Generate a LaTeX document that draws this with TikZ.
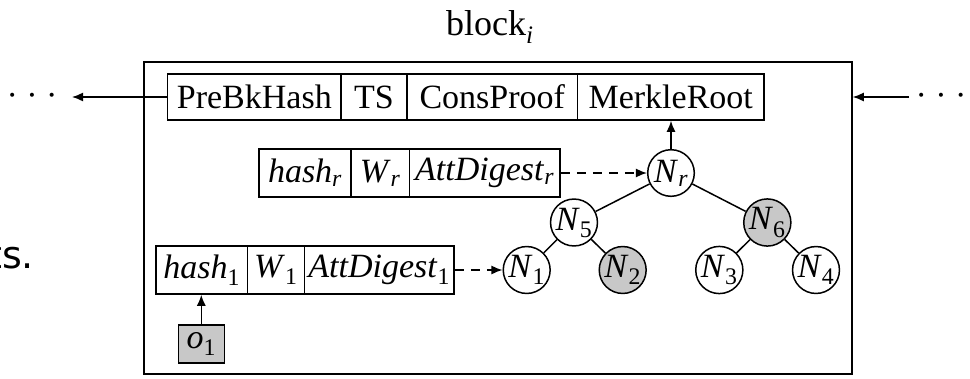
\documentclass[tikz,border=0pt]{standalone}
\usepackage{amsmath}
\usepackage{fontspec}
\setmainfont{Liberation Serif}
\newfontfamily\sidefont{DejaVu Sans}
\usetikzlibrary{arrows.meta}
\definecolor{shade}{HTML}{C8C8C8}
% italic name with italic / upright subscript
\newcommand\isub[2]{\textit{#1}$_{\textit{#2}}$}
\newcommand\nsub[2]{\textit{#1}$_{\textrm{#2}}$}

\begin{document}
\begin{tikzpicture}[x=1pt,y=-1pt,
  every node/.style={font=\fontsize{34}{40}\selectfont},
  cell/.style={draw,line width=1.5pt,inner sep=0pt,minimum height=46pt},
  tnode/.style={draw,circle,line width=1.5pt,inner sep=0pt,minimum size=46.6pt},
  shaded/.style={fill=shade},
  link/.style={line width=1.5pt},
  arr/.style={line width=1.5pt,-{Latex[length=11pt,width=9pt]}},
  dasharr/.style={arr,dash pattern=on 9pt off 7pt}]
\useasboundingbox (0,0) rectangle (970,378);

% surrounding text fragment
\node[font=\sidefont\fontsize{38}{46}\selectfont,anchor=base west,inner sep=0pt] (frag) at (-13,268) {ts.};

% title and block frame
\node[anchor=base west,inner sep=0pt,font=\fontsize{36}{42}\selectfont] (title) at (446,35) {block$_{\textit{i}}$};
\node[draw,line width=1.5pt,inner sep=0pt,minimum width=708pt,minimum height=312pt] (blk) at (498,218) {};

% block header
\node[cell,minimum width=173.3pt] (pre)    at (254.35,97) {PreBkHash};
\node[cell,minimum width=66pt]    (ts)     at (374,97)    {TS};
\node[cell,minimum width=170.5pt] (cons)   at (492.25,97) {ConsProof};
\node[cell,minimum width=186.5pt] (merkle) at (670.75,97) {MerkleRoot};

% root record
\node[cell,minimum height=48pt,minimum width=92pt]    (hashr) at (305,173)    {\isub{hash}{r}};
\node[cell,minimum height=48pt,minimum width=58.3pt]  (wr)    at (380.15,173) {\isub{W}{r}};
\node[cell,minimum height=48pt,minimum width=150.7pt] (attr)  at (484.65,173) {\isub{AttDigest}{r}};

% leaf record
\node[cell,minimum height=48pt,minimum width=91.3pt]  (hash1) at (201.65,270) {\nsub{hash}{1}};
\node[cell,minimum height=48pt,minimum width=57pt]    (w1)    at (275.8,270)  {\nsub{W}{1}};
\node[cell,minimum height=48pt,minimum width=149.7pt] (att1)  at (379.15,270) {\nsub{AttDigest}{1}};

% object
\node[cell,shaded,minimum width=46pt,minimum height=37.7pt] (o1) at (201.3,344) {\nsub{o}{1}};

% Merkle tree
\node[tnode]        (nr) at (671,173)   {\isub{N}{r}};
\node[tnode]        (n5) at (574,222.5) {\nsub{N}{5}};
\node[tnode,shaded] (n6) at (767.3,222.5) {\nsub{N}{6}};
\node[tnode]        (n1) at (526.7,270) {\nsub{N}{1}};
\node[tnode,shaded] (n2) at (622.7,270) {\nsub{N}{2}};
\node[tnode]        (n3) at (719.3,270) {\nsub{N}{3}};
\node[tnode]        (n4) at (816,270)   {\nsub{N}{4}};

\draw[link] (nr) -- (n5);
\draw[link] (nr) -- (n6);
\draw[link] (n5) -- (n1);
\draw[link] (n5) -- (n2);
\draw[link] (n6) -- (n3);
\draw[link] (n6) -- (n4);

% connectors
\draw[arr] (nr.north) -- (nr.north |- merkle.south);
\draw[arr] (o1.north) -- (o1.north |- hash1.south);
\draw[dasharr] (attr.east) -- (nr.west);
\draw[dasharr] (att1.east) -- (n1.west);

% chain to neighbouring blocks
\coordinate (ltip) at (72,97);
\coordinate (rtail) at (909,97);
\draw[arr] (pre.west) -- (ltip);
\draw[arr] (rtail) -- (rtail -| blk.east);
\node[anchor=base] (ldots) at (32,106) {· · ·};
\node[anchor=base] (rdots) at (941,106) {· · ·};
\end{tikzpicture}
\end{document}
